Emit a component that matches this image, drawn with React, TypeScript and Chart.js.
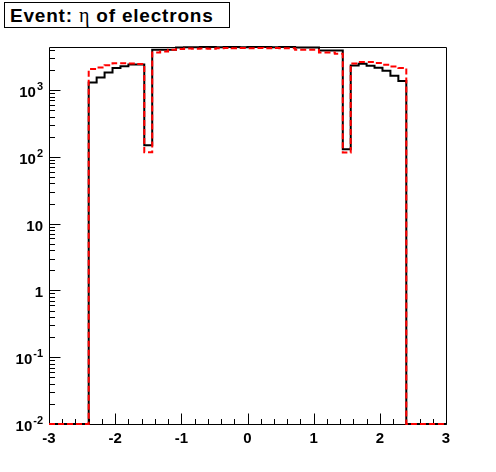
import React, { useEffect, useRef } from "react";
import { Chart, registerables } from "chart.js";

Chart.register(...registerables);

const X_MIN = -3;
const X_MAX = 3;
const BIN_WIDTH = 0.12;
const Y_MIN = 0.01;
const Y_MAX = 4420;

const X_TICKS = [-3, -2, -1, 0, 1, 2, 3];
const Y_DECADES = [-2, -1, 0, 1, 2, 3];

// black solid histogram
const histBlack = [
  0, 0, 0, 0, 0,
  1300, 1540, 1830, 2150, 2280, 2410, 2410,
  149,
  4020, 4020, 4020, 4330, 4380, 4400, 4420, 4420, 4390, 4420, 4420, 4390,
  4410, 4420, 4420, 4400, 4420, 4420, 4350, 4350, 4350, 3930, 3930, 3930,
  130,
  2340, 2480, 2310, 2160, 1950, 1640, 1365,
  0, 0, 0, 0, 0,
];

// red dashed histogram
const histRed = [
  0, 0, 0, 0, 0,
  2065, 2175, 2360, 2530, 2530, 2500, 2450,
  117,
  3660, 3790, 4020, 4130, 4200, 4150, 4200, 4160, 4230, 4270, 4220, 4270,
  4250, 4270, 4240, 4280, 4250, 4250, 4020, 4020, 4020, 3660, 3660, 3500,
  116,
  2500, 2630, 2630, 2540, 2400, 2260, 2140,
  0, 0, 0, 0, 0,
];

const TITLE_PRE = "Event: ";
const TITLE_ETA = "\u03b7";
const TITLE_POST = " of electrons";

const FONT = '"Liberation Sans", Arial, Helvetica, sans-serif';

function toSteps(values: number[]) {
  const pts = values.map((v, i) => ({
    x: X_MIN + i * BIN_WIDTH,
    y: Math.max(v, Y_MIN),
  }));
  pts.push({ x: X_MAX, y: Math.max(values[values.length - 1], Y_MIN) });
  return pts;
}

const axesPlugin = {
  id: "rootAxes",
  beforeDatasetsDraw(chart: any) {
    const { ctx, chartArea } = chart;
    const { left, right, top, bottom } = chartArea;
    const xs = chart.scales.x;
    const ys = chart.scales.y;
    ctx.save();
    ctx.strokeStyle = "#000";
    ctx.lineWidth = 1;
    const L = Math.round(left) + 0.5;
    const R = Math.round(right) + 0.5;
    const T = Math.round(top) + 0.5;
    const B = Math.round(bottom) + 0.5;
    ctx.beginPath();
    ctx.rect(L, T, R - L, B - T);
    ctx.stroke();

    // x ticks
    ctx.beginPath();
    for (let k = 0; k <= 30; k++) {
      const v = X_MIN + k * 0.2;
      const px = Math.round(xs.getPixelForValue(v)) + 0.5;
      const major = k % 5 === 0;
      ctx.moveTo(px, B);
      ctx.lineTo(px, B - (major ? 11 : 5.5));
    }
    // y ticks
    for (let d = Y_DECADES[0]; d <= 3; d++) {
      for (let m = 1; m <= 9; m++) {
        const v = m * Math.pow(10, d);
        if (v > Y_MAX) break;
        const py = Math.round(ys.getPixelForValue(v)) + 0.5;
        ctx.moveTo(L, py);
        ctx.lineTo(L + (m === 1 ? 11 : 5.5), py);
      }
    }
    ctx.stroke();

    // x labels
    ctx.fillStyle = "#000";
    ctx.font = `bold 15px ${FONT}`;
    ctx.textAlign = "center";
    ctx.textBaseline = "alphabetic";
    X_TICKS.forEach((t) => {
      const px = xs.getPixelForValue(t);
      ctx.fillText(String(t), px, bottom + 19);
    });

    // y labels
    const rightEdge = left - 6;
    Y_DECADES.forEach((d) => {
      const py = ys.getPixelForValue(Math.pow(10, d));
      const baseY = py + 7;
      if (d === 0 || d === 1) {
        ctx.font = `bold 15px ${FONT}`;
        ctx.textAlign = "right";
        ctx.fillText(d === 0 ? "1" : "10", rightEdge, baseY);
      } else {
        const exp = String(d);
        ctx.font = `bold 11px ${FONT}`;
        const ew = ctx.measureText(exp).width;
        ctx.textAlign = "right";
        ctx.fillText(exp, rightEdge, baseY - 7);
        ctx.font = `bold 15px ${FONT}`;
        ctx.fillText("10", rightEdge - ew - 1, baseY);
      }
    });
    ctx.restore();
  },
};

export default function App() {
  const ref = useRef<HTMLCanvasElement | null>(null);

  useEffect(() => {
    if (!ref.current) return;
    const chart = new Chart(ref.current, {
      type: "line",
      data: {
        datasets: [
          {
            label: "red",
            data: toSteps(histRed),
            stepped: "before",
            borderColor: "#ff0000",
            borderWidth: 2,
            borderDash: [6, 3],
            pointRadius: 0,
            fill: false,
            clip: false,
          } as any,
          {
            label: "black",
            data: toSteps(histBlack),
            stepped: "before",
            borderColor: "#000000",
            borderWidth: 2,
            pointRadius: 0,
            fill: false,
            clip: false,
          } as any,
        ],
      },
      options: {
        responsive: false,
        animation: false,
        devicePixelRatio: 1,
        layout: { padding: { left: 49, right: 50, top: 47, bottom: 48 } },
        scales: {
          x: { type: "linear", min: X_MIN, max: X_MAX, display: false },
          y: { type: "logarithmic", min: Y_MIN, max: Y_MAX, display: false },
        },
        plugins: {
          legend: { display: false },
          tooltip: { enabled: false },
          title: { display: false },
        },
      },
      plugins: [axesPlugin],
    });
    return () => chart.destroy();
  }, []);

  return (
    <div style={{ position: "absolute", left: 0, top: 0, width: 496, height: 472, background: "#fff" }}>
      <canvas ref={ref} width={496} height={472} style={{ position: "absolute", left: 0, top: 0, width: 496, height: 472 }} />
      <div
        style={{
          position: "absolute",
          left: 4,
          top: 2,
          width: 226,
          height: 26,
          boxSizing: "border-box",
          border: "1px solid #000",
          background: "#fff",
          fontFamily: FONT,
          fontWeight: "bold",
          fontSize: 19,
          letterSpacing: "0.8px",
          lineHeight: "24px",
          paddingLeft: 5,
          whiteSpace: "nowrap",
        }}
      >
        {TITLE_PRE}
        <span style={{ fontFamily: '"Liberation Serif", "DejaVu Serif", serif', fontWeight: "normal", fontSize: 20 }}>{TITLE_ETA}</span>
        {TITLE_POST}
      </div>
    </div>
  );
}
